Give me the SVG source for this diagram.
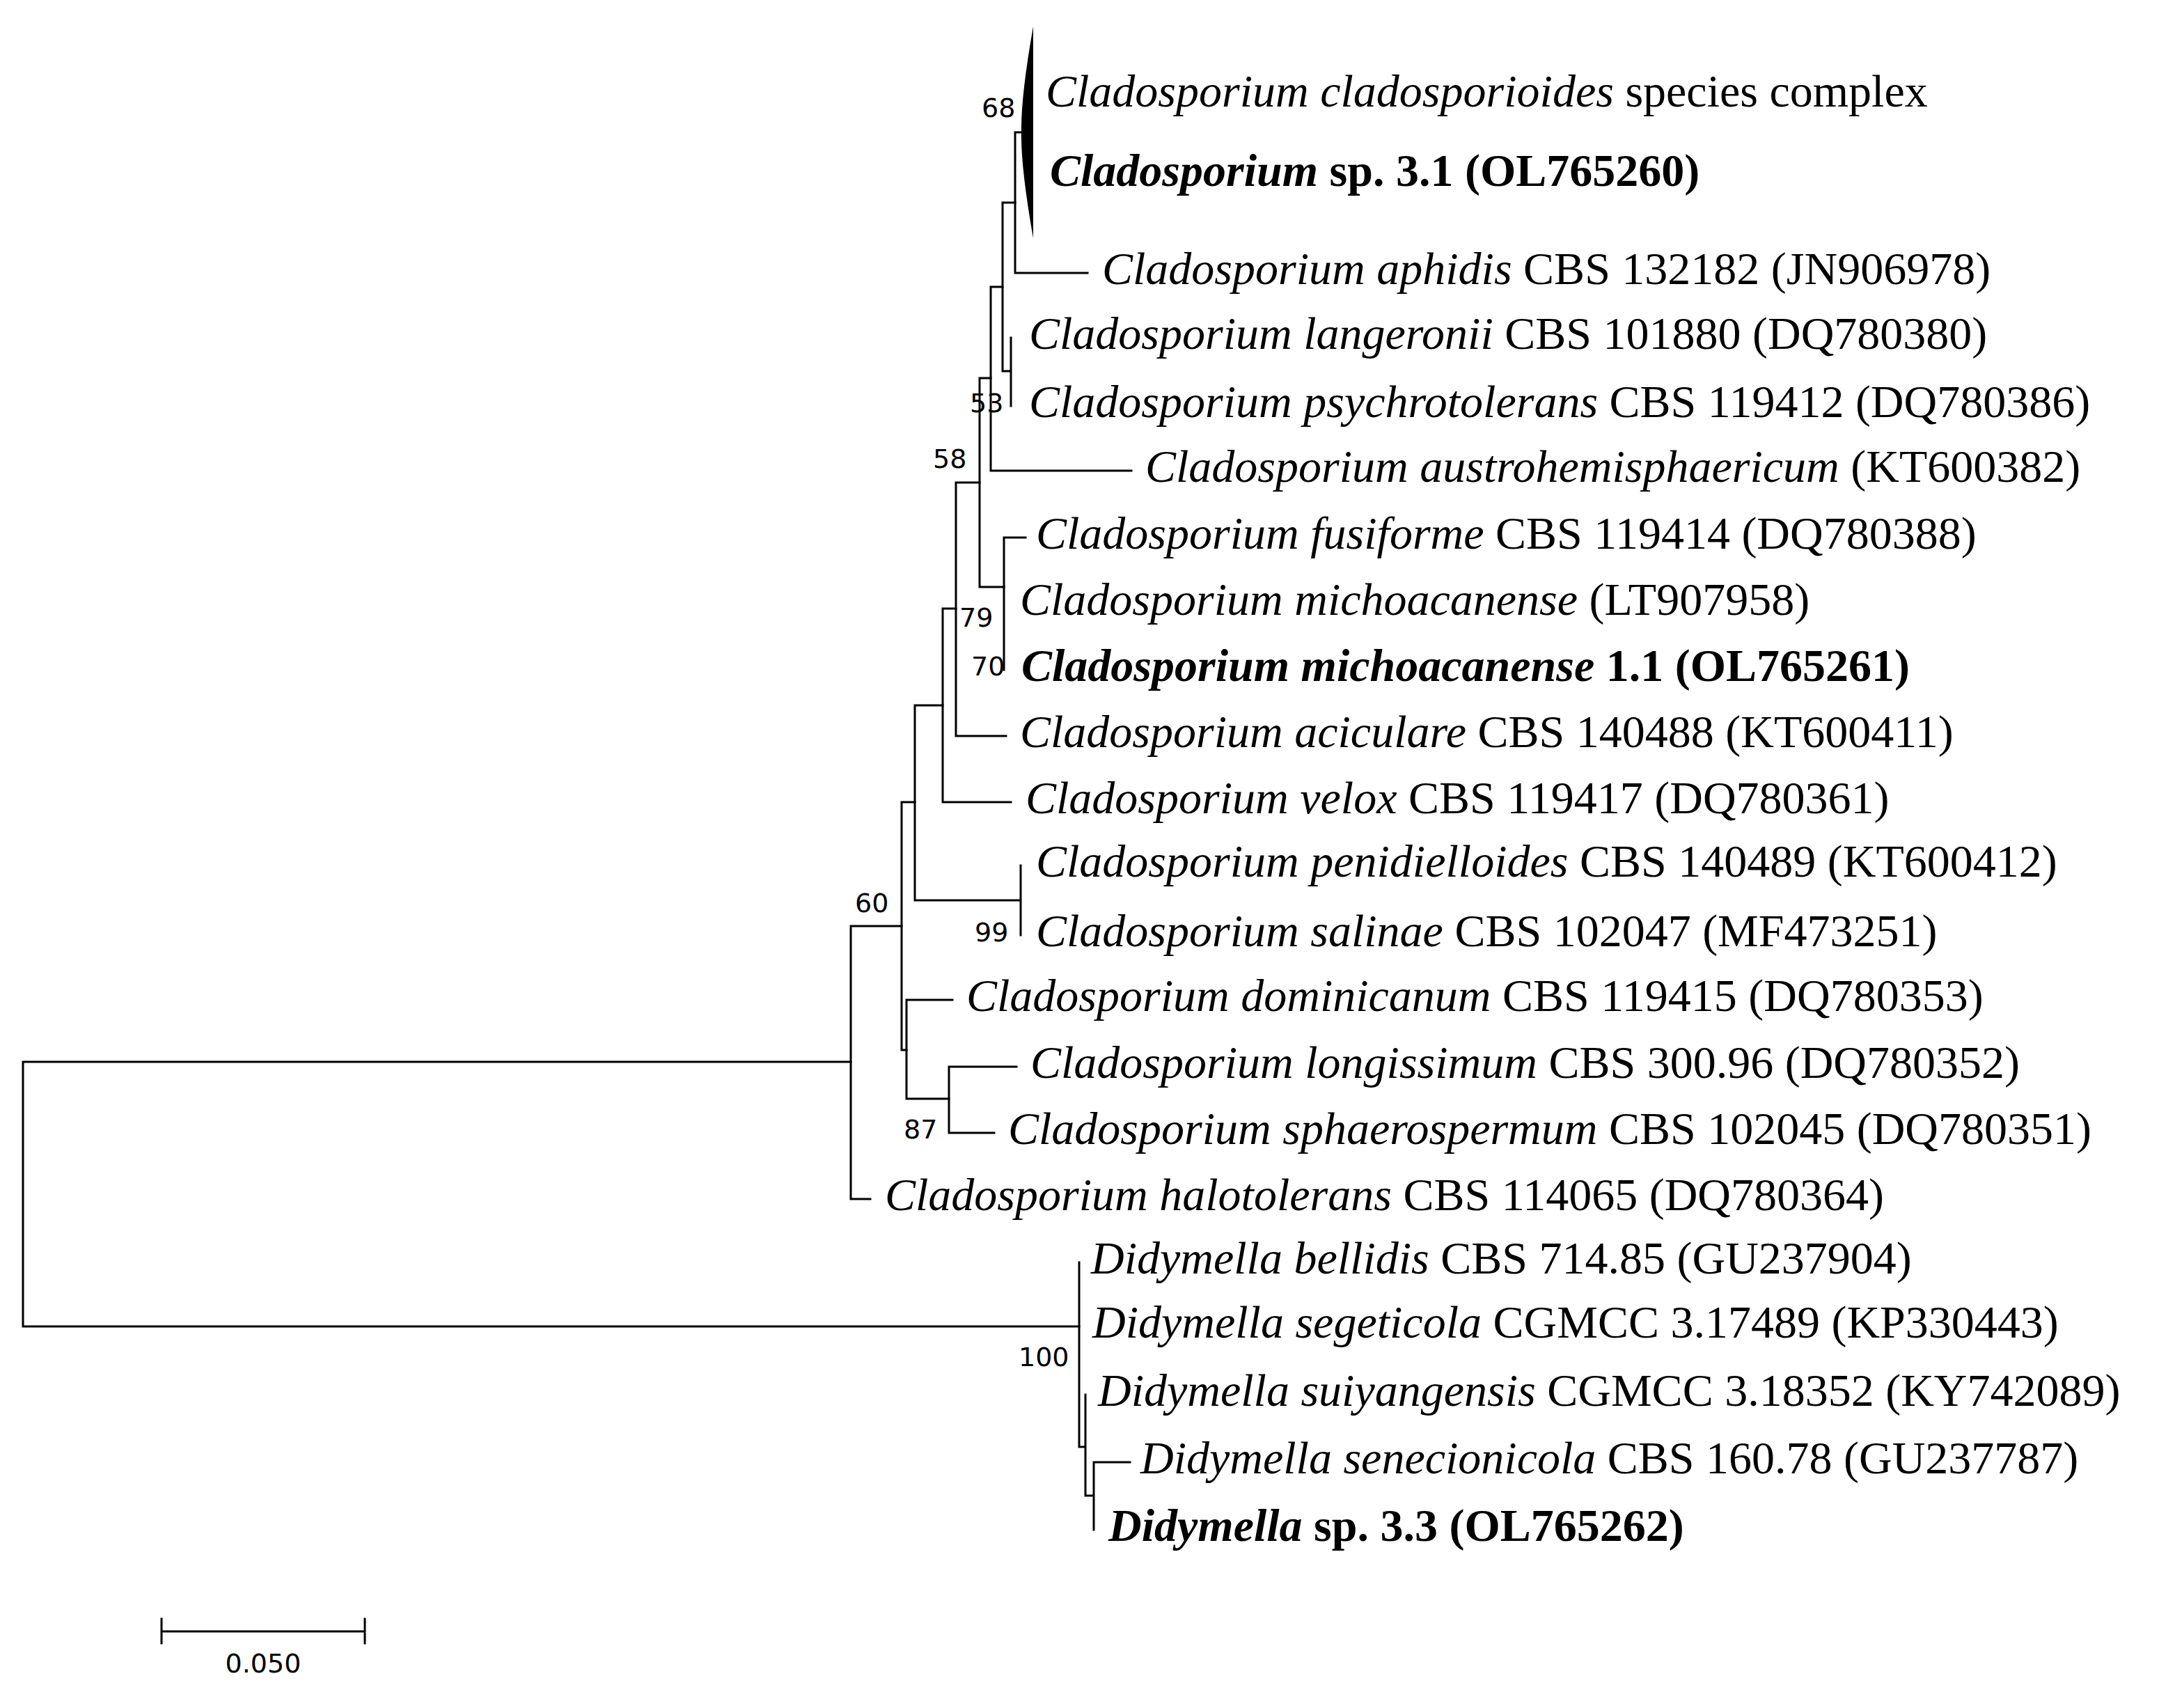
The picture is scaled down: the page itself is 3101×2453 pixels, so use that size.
<svg xmlns="http://www.w3.org/2000/svg" width="3101" height="2453" viewBox="0 0 3101 2453">
<style>
.br{fill:none;stroke:#000;stroke-width:3;stroke-linecap:square}
.t{font-family:"Liberation Serif","Times New Roman",serif;font-size:66px;fill:#000}
.b{font-weight:bold}
.i{font-style:italic}
.n{font-family:"DejaVu Sans",Verdana,sans-serif;font-size:38px;fill:#000}
</style>
<rect width="3101" height="2453" fill="#fff"/>
<g id="connectors">
<path class="br" d="M1222,1525 H33 V1905 H1550"/>
<path class="br" d="M1222,1330 V1722 H1250 M1222,1330 H1295"/>
<path class="br" d="M1295,1152 V1508 H1302 M1295,1152 H1314"/>
<path class="br" d="M1302,1436 V1578 H1363 M1302,1436 H1368"/>
<path class="br" d="M1363,1532 V1627 H1428 M1363,1532 H1460"/>
<path class="br" d="M1314,1013 V1293 H1466 M1314,1013 H1354 M1466,1243 V1343"/>
<path class="br" d="M1354,874 V1152 H1452 M1354,874 H1373"/>
<path class="br" d="M1373,693 V1057 H1445 M1373,693 H1407"/>
<path class="br" d="M1407,543 V843 H1442 M1407,543 H1423"/>
<path class="br" d="M1442,772 V962 M1442,772 H1473"/>
<path class="br" d="M1423,412 V676 H1625 M1423,412 H1440"/>
<path class="br" d="M1440,291 V533 H1452 M1440,291 H1458 M1452,485 V583"/>
<path class="br" d="M1458,190 V392 H1562 M1458,190 H1468"/>
<path class="br" d="M1550,1813 V2078 H1559 M1559,2003 V2148 H1571 M1571,2100 V2197 M1571,2100 H1623"/>
</g>
<g id="collapsed-clade">
<path d="M1484,38 Q1466,140 1467,190 Q1466,240 1484,342 Z" fill="#000"/>
</g>
<g id="support">
<text class="n" x="1410" y="168">68</text>
<text class="n" x="1393" y="592">53</text>
<text class="n" x="1340" y="672">58</text>
<text class="n" x="1378" y="900">79</text>
<text class="n" x="1395" y="970">70</text>
<text class="n" x="1400" y="1352">99</text>
<text class="n" x="1228" y="1310">60</text>
<text class="n" x="1298" y="1635">87</text>
<text class="n" x="1463" y="1962">100</text>
</g>
<g id="taxa">
<text class="t" x="1502" y="153"><tspan class="i">Cladosporium cladosporioides</tspan> species complex</text>
<text class="t b" x="1508" y="267"><tspan class="i">Cladosporium</tspan> sp. 3.1 (OL765260)</text>
<text class="t" x="1583" y="408"><tspan class="i">Cladosporium aphidis</tspan> CBS 132182 (JN906978)</text>
<text class="t" x="1478" y="501"><tspan class="i">Cladosporium langeronii</tspan> CBS 101880 (DQ780380)</text>
<text class="t" x="1478" y="599"><tspan class="i">Cladosporium psychrotolerans</tspan> CBS 119412 (DQ780386)</text>
<text class="t" x="1645" y="692"><tspan class="i">Cladosporium austrohemisphaericum</tspan> (KT600382)</text>
<text class="t" x="1488" y="788"><tspan class="i">Cladosporium fusiforme</tspan> CBS 119414 (DQ780388)</text>
<text class="t" x="1465" y="883"><tspan class="i">Cladosporium michoacanense</tspan> (LT907958)</text>
<text class="t b" x="1467" y="978"><tspan class="i">Cladosporium michoacanense</tspan> 1.1 (OL765261)</text>
<text class="t" x="1465" y="1073"><tspan class="i">Cladosporium aciculare</tspan> CBS 140488 (KT600411)</text>
<text class="t" x="1473" y="1168"><tspan class="i">Cladosporium velox</tspan> CBS 119417 (DQ780361)</text>
<text class="t" x="1488" y="1259"><tspan class="i">Cladosporium penidielloides</tspan> CBS 140489 (KT600412)</text>
<text class="t" x="1488" y="1359"><tspan class="i">Cladosporium salinae</tspan> CBS 102047 (MF473251)</text>
<text class="t" x="1388" y="1452"><tspan class="i">Cladosporium dominicanum</tspan> CBS 119415 (DQ780353)</text>
<text class="t" x="1480" y="1548"><tspan class="i">Cladosporium longissimum</tspan> CBS 300.96 (DQ780352)</text>
<text class="t" x="1448" y="1643"><tspan class="i">Cladosporium sphaerospermum</tspan> CBS 102045 (DQ780351)</text>
<text class="t" x="1271" y="1738"><tspan class="i">Cladosporium halotolerans</tspan> CBS 114065 (DQ780364)</text>
<text class="t" x="1567" y="1829"><tspan class="i">Didymella bellidis</tspan> CBS 714.85 (GU237904)</text>
<text class="t" x="1569" y="1921"><tspan class="i">Didymella segeticola</tspan> CGMCC 3.17489 (KP330443)</text>
<text class="t" x="1577" y="2019"><tspan class="i">Didymella suiyangensis</tspan> CGMCC 3.18352 (KY742089)</text>
<text class="t" x="1638" y="2116"><tspan class="i">Didymella senecionicola</tspan> CBS 160.78 (GU237787)</text>
<text class="t b" x="1592" y="2213"><tspan class="i">Didymella</tspan> sp. 3.3 (OL765262)</text>
</g>
<g id="scale-bar">
<path class="br" d="M232,2343 H524 M232,2325 V2360 M524,2325 V2360"/>
<text class="n" x="378" y="2402" text-anchor="middle">0.050</text>
</g>
</svg>
